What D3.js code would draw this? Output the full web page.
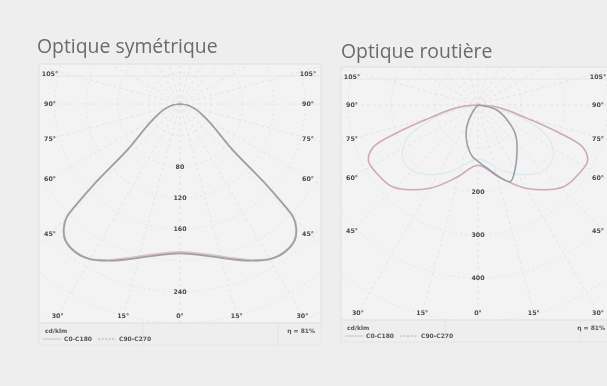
<!DOCTYPE html>
<html><head><meta charset="utf-8">
<script src="https://cdn.jsdelivr.net/npm/d3@7"></script>
<style>html,body{margin:0;padding:0;background:#eeeeee;}svg{display:block;}</style>
</head><body>
<svg id="chart" width="607" height="386"></svg>
<script>
// ---------- data ----------
const titles = ["Optique symétrique", "Optique routière"];
const sideAngles = [105, 90, 75, 60, 45];          // labels on the left / right edges
const bottomAngles = [-30, -15, 0, 15, 30];        // labels on the bottom edge
const legendNames = ["C0-C180", "C90-C270"];
const unitLabel = "cd/klm";
const effLabel = "η = 81%";

// Optique symétrique (cd/klm), gamma measured from nadir, symmetric
const gammaSym = [0, 10, 20, 25, 30, 35, 40, 43, 45, 46, 47, 49, 55, 60, 70, 80, 90];
const symC0   = [189, 195, 210, 220, 229, 231, 227, 217, 204, 178, 147, 86, 54, 40, 23, 11, 0];
const symC90  = [191, 197, 212, 221, 229, 232, 228, 218, 205, 180, 150, 88, 55, 40, 23, 11, 0];
const ringValuesSym = [40, 80, 120, 160, 200, 240, 280, 320];
const ringLabelsSym = [80, 120, 160, 240];

// Optique routière (cd/klm)
const gammaRoadC0 = [0, 16, 30, 46, 56, 63, 68, 71, 75, 80, 85, 90];
const roadC0      = [139, 173, 222, 273, 282, 284, 261, 199, 115, 69, 35, 0];
const gammaRoadC90 = [-50, -40, -27, -16, -6, 0, 10, 17, 23, 28, 39, 50, 57, 75, 90];
const roadC90      = [0, 15, 57, 92, 120, 130, 152, 175, 192, 178, 143, 115, 94, 45, 0];
const gammaRoadC45 = [0, 20, 30, 45, 55, 60, 65, 70, 75, 80, 90];
const roadC45      = [125, 160, 185, 215, 212, 200, 180, 140, 90, 50, 0];
const ringValuesRoad = [100, 200, 300, 400, 500, 600];
const ringLabelsRoad = [200, 300, 400];

// ---------- layout ----------
const svg = d3.select("#chart");
const defs = svg.append("defs");
defs.append("filter").attr("id","soft").attr("x","-5%").attr("y","-5%").attr("width","110%").attr("height","110%")
  .append("feGaussianBlur").attr("stdDeviation", 0.55);
defs.append("filter").attr("id","soft2")
  .append("feGaussianBlur").attr("stdDeviation", 0.3);

const panels = [
  {title: titles[0], tx: 37, ty: 53, x0: 39, x1: 321, y0: 64, y1: 323, cx: 180, oy: 104, pxStep: 31.3, step: 40,
   rings: ringValuesSym, ringLabels: ringLabelsSym,
   series: [
     {g: gammaSym, v: symC0, sym: true, color: "#d6bfd0", w: 1.6},
     {g: gammaSym, v: symC90, sym: true, color: "#a0a0a0", w: 1.7}
   ]},
  {title: titles[1], tx: 341, ty: 57.5, x0: 341, x1: 615, y0: 67, y1: 320, cx: 478, oy: 105, pxStep: 43.3, step: 100,
   rings: ringValuesRoad, ringLabels: ringLabelsRoad,
   series: [
     {g: gammaRoadC45, v: roadC45, sym: true, color: "#dae9e9", w: 1.1},
     {g: gammaRoadC0, v: roadC0, sym: true, color: "#cfa9b6", w: 1.6},
     {g: gammaRoadC90, v: roadC90, sym: false, color: "#9aa0a8", w: 1.6}
   ]}
];

panels.forEach((p, i) => {
  svg.append("text").attr("x", p.tx).attr("y", p.ty)
    .attr("font-family", "'Open Sans', sans-serif").attr("font-size", 19.4)
    .attr("fill", "#6b6b6b").attr("filter","url(#soft2)").text(p.title);

  const g = svg.append("g").attr("filter", "url(#soft)");
  const clipId = "clip" + i;
  defs.append("clipPath").attr("id", clipId).append("rect")
    .attr("x", p.x0).attr("y", p.y0).attr("width", p.x1 - p.x0).attr("height", p.y1 - p.y0);

  g.append("rect").attr("x", p.x0).attr("y", p.y0).attr("width", p.x1 - p.x0).attr("height", p.y1 - p.y0)
    .attr("fill", "#f3f3f3").attr("stroke", "#e0e0e0").attr("stroke-width", 1);
  // legend frame
  g.append("rect").attr("x", p.x0).attr("y", p.y1).attr("width", p.x1 - p.x0).attr("height", 22)
    .attr("fill", "none").attr("stroke", "#e6e6e6");
  g.append("line").attr("x1", p.x0 + 104).attr("x2", p.x0 + 104).attr("y1", p.y1).attr("y2", p.y1 + 22).attr("stroke", "#e4e4e4");
  g.append("line").attr("x1", p.x0 + 239).attr("x2", p.x0 + 239).attr("y1", p.y1).attr("y2", p.y1 + 22).attr("stroke", "#e4e4e4");

  const r = d3.scaleLinear().domain([0, p.step]).range([0, p.pxStep]);
  const grid = g.append("g").attr("clip-path", `url(#${clipId})`);
  grid.selectAll("circle.ring").data(p.rings).join("circle")
    .attr("cx", p.cx).attr("cy", p.oy).attr("r", d => r(d))
    .attr("fill", "none").attr("stroke", "#e0e0e0").attr("stroke-width", 0.8).attr("stroke-dasharray", "2,3");
  const spokes = d3.range(-180, 180, 15);
  grid.selectAll("line.spoke").data(spokes).join("line")
    .attr("x1", p.cx).attr("y1", p.oy)
    .attr("x2", d => p.cx + 500 * Math.sin(d * Math.PI / 180))
    .attr("y2", d => p.oy + 500 * Math.cos(d * Math.PI / 180))
    .attr("stroke", "#e0e0e0").attr("stroke-width", 0.8).attr("stroke-dasharray", "3,3");
  grid.append("line").attr("x1", p.x0).attr("x2", p.x1).attr("y1", p.y0 + 12).attr("y2", p.y0 + 12)
    .attr("stroke", "#e6e6e6");

  // curves
  const lineR = d3.lineRadial()
    .angle(d => Math.PI - d[0] * Math.PI / 180)
    .radius(d => r(d[1]))
    .curve(d3.curveCatmullRom.alpha(0.5));
  const curves = g.append("g").attr("transform", `translate(${p.cx},${p.oy})`);
  p.series.forEach(s => {
    let pts = s.g.map((a, k) => [a, s.v[k]]);
    if (s.sym) {
      const left = pts.slice(1).map(d => [-d[0], d[1]]).reverse();
      pts = left.concat(pts);
    }
    curves.append("path").attr("d", lineR(pts)).attr("fill", "none")
      .attr("stroke", s.color).attr("stroke-width", s.w);
  });

  // angle labels
  const inL = p.x0 + 11, inR = Math.min(p.x1 - 13, 598), inB = p.y1 - 7, inT = p.y0 + 10;
  const lab = g.append("g").attr("font-family", "'DejaVu Sans', sans-serif").attr("font-size", 6.3)
    .attr("font-weight", "bold").attr("fill", "#4a4a4a").attr("text-anchor", "middle");
  const dxIn = p.cx - inL;
  [-1, 1].forEach(side => {
    lab.selectAll(null).data(sideAngles).join("text")
      .attr("x", side < 0 ? inL : inR)
      .attr("y", a => {
        const rad = a * Math.PI / 180;
        const y = p.oy + dxIn / Math.sin(rad) * Math.cos(rad);
        return Math.max(inT, Math.min(inB, y)) + 2;
      })
      .text(a => a + "°");
  });
  lab.selectAll(null).data(bottomAngles).join("text")
    .attr("x", a => {
      const rad = a * Math.PI / 180;
      const x = p.cx + (inB - p.oy) * Math.tan(rad);
      return Math.max(inL, Math.min(inR, x));
    })
    .attr("y", inB + 2)
    .text(a => Math.abs(a) + "°");
  lab.selectAll(null).data(p.ringLabels).join("text")
    .attr("x", p.cx).attr("y", d => p.oy + r(d) + 2).text(d => d);

  // legend
  const lg = g.append("g").attr("font-family", "'DejaVu Sans', sans-serif").attr("font-size", 6)
    .attr("font-weight", "bold").attr("fill", "#555555");
  lg.append("text").attr("x", p.x0 + 6).attr("y", p.y1 + 10).text(unitLabel);
  const lx = [p.x0 + 4, p.x0 + 59];
  legendNames.forEach((n, k) => {
    lg.append("line").attr("x1", lx[k]).attr("x2", lx[k] + 18).attr("y1", p.y1 + 16).attr("y2", p.y1 + 16)
      .attr("stroke", k === 0 ? "#b8b8b8" : "#9a9a9a").attr("stroke-width", 0.8)
      .attr("stroke-dasharray", k === 0 ? null : "2,1.5");
    lg.append("text").attr("x", lx[k] + 21).attr("y", p.y1 + 18).text(n);
  });
  lg.append("text").attr("x", Math.min(p.x0 + 276, 605)).attr("y", p.y1 + 10)
    .attr("text-anchor", "end").text(effLabel);
});
</script>
</body></html>
